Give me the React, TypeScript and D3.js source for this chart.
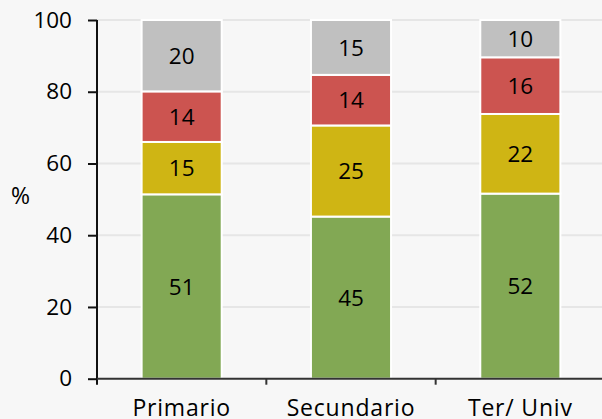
import { useRef, useEffect } from "react";
import * as d3 from "d3";

const categories = ["Primario", "Secundario", "Ter/ Univ"];
const seriesNames = ["s1", "s2", "s3", "s4"];
// stacked values per series, bottom to top
const green = [51.4, 45.2, 51.6];
const yellow = [14.6, 25.4, 22.2];
const red = [14.1, 14.1, 15.8];
const gray = [19.9, 15.3, 10.4];
const yTicks = [0, 20, 40, 60, 80, 100];

const COLORS = {
  bg: "#f7f7f7",
  grid: "#e6e6e6",
  axis: "#111111",
  series: ["#82a854", "#cfb514", "#cc5450", "#c0c0c0"],
};

const FONT = "'Open Sans', 'Noto Sans', sans-serif";
const W = 602;
const H = 419;

export default function App() {
  const svgRef = useRef<SVGSVGElement>(null);

  useEffect(() => {
    if (!svgRef.current) return;
    const svg = d3.select(svgRef.current);
    svg.selectAll("*").remove();

    const left = 97;
    const right = 605;
    const top = 20;
    const bottom = 378.7;

    svg.append("rect").attr("width", W).attr("height", H).attr("fill", COLORS.bg);

    const x = d3
      .scaleBand<string>()
      .domain(categories)
      .range([left, right])
      .paddingInner(0.527)
      .paddingOuter(0.2635);
    const y = d3.scaleLinear().domain([0, 100]).range([bottom, top]);

    // Grid
    svg
      .append("g")
      .selectAll("line")
      .data(yTicks.filter((t) => t > 0))
      .enter()
      .append("line")
      .attr("x1", left)
      .attr("x2", W)
      .attr("y1", (d) => y(d))
      .attr("y2", (d) => y(d))
      .attr("stroke", COLORS.grid)
      .attr("stroke-width", 2);

    const rows = categories.map((c, i) => ({
      cat: c,
      s1: green[i],
      s2: yellow[i],
      s3: red[i],
      s4: gray[i],
    }));
    const stack = d3.stack<(typeof rows)[0]>().keys(seriesNames);
    const stacked = stack(rows);

    stacked.forEach((layer, li) => {
      const g = svg.append("g");
      g.selectAll("rect")
        .data(layer)
        .enter()
        .append("rect")
        .attr("x", (d) => x(d.data.cat)!)
        .attr("width", x.bandwidth())
        .attr("y", (d) => y(d[1]))
        .attr("height", (d) => y(d[0]) - y(d[1]))
        .attr("fill", COLORS.series[li])
        .attr("stroke", "#ffffff")
        .attr("stroke-width", 2);
      g.selectAll("text")
        .data(layer)
        .enter()
        .append("text")
        .attr("x", (d) => x(d.data.cat)! + x.bandwidth() / 2)
        .attr("y", (d) => (y(d[0]) + y(d[1])) / 2)
        .attr("dy", "0.36em")
        .attr("text-anchor", "middle")
        .attr("font-family", FONT)
        .attr("font-size", 22.5)
        .attr("fill", "#000")
        .text((d) => Math.round(d[1] - d[0]));
    });

    // Y axis
    const yAxis = svg
      .append("g")
      .attr("transform", `translate(${left},0)`)
      .call(d3.axisLeft(y).tickValues(yTicks).tickSize(9).tickPadding(16).tickSizeOuter(0));
    yAxis.select(".domain").attr("stroke", COLORS.axis).attr("stroke-width", 2).attr("d", `M0,${top}V${bottom + 6}`);
    yAxis.selectAll(".tick line").attr("stroke", COLORS.axis).attr("stroke-width", 2);
    yAxis
      .selectAll(".tick text")
      .attr("font-family", FONT)
      .attr("font-size", 22.5)
      .attr("fill", "#000");

    // X axis
    svg
      .append("line")
      .attr("x1", left)
      .attr("x2", W)
      .attr("y1", bottom)
      .attr("y2", bottom)
      .attr("stroke", "#333")
      .attr("stroke-width", 2);
    const step = x.step();
    svg
      .append("g")
      .selectAll("line")
      .data(categories.slice(1))
      .enter()
      .append("line")
      .attr("x1", (d) => x(d)! - (step - x.bandwidth()) / 2)
      .attr("x2", (d) => x(d)! - (step - x.bandwidth()) / 2)
      .attr("y1", bottom)
      .attr("y2", bottom + 6)
      .attr("stroke", "#333")
      .attr("stroke-width", 2);

    svg
      .append("g")
      .selectAll("text")
      .data(categories)
      .enter()
      .append("text")
      .attr("x", (d) => x(d)! + x.bandwidth() / 2)
      .attr("y", 416)
      .attr("text-anchor", "middle")
      .attr("font-family", FONT)
      .attr("font-size", 23)
      .attr("letter-spacing", 0.8)
      .attr("fill", "#000")
      .text((d) => d);

    svg
      .append("text")
      .attr("x", 20.5)
      .attr("y", 195.5)
      .attr("dy", "0.36em")
      .attr("text-anchor", "middle")
      .attr("font-family", FONT)
      .attr("font-size", 23)
      .attr("fill", "#000")
      .text("%");
  }, []);

  return (
    <div style={{ position: "fixed", left: 0, top: 0 }}>
      <svg ref={svgRef} width={W} height={H} style={{ display: "block" }} />
    </div>
  );
}
